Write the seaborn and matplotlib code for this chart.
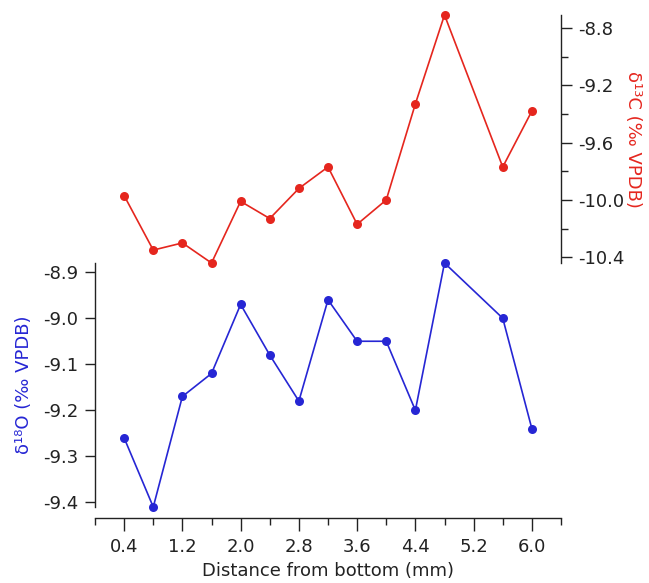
import matplotlib
matplotlib.use("Agg")
import matplotlib.pyplot as plt
import matplotlib.ticker as mticker
import seaborn as sns
import pandas as pd
import numpy as np

# distance from bottom (mm)
dist = [0.4, 0.8, 1.2, 1.6, 2.0, 2.4, 2.8, 3.2, 3.6, 4.0, 4.4, 4.8, 5.6, 6.0]
# d18O (permil VPDB)
d18o = [-9.26, -9.41, -9.17, -9.12, -8.97, -9.08, -9.18, -8.96, -9.05, -9.05, -9.20, -8.88, -9.00, -9.24]
# d13C (permil VPDB)
d13c = [-9.97, -10.35, -10.30, -10.44, -10.01, -10.13, -9.92, -9.77, -10.17, -10.00, -9.33, -8.71, -9.77, -9.38]

x_major = [0.4, 1.2, 2.0, 2.8, 3.6, 4.4, 5.2, 6.0]
x_minor = [0.0, 0.8, 1.6, 2.4, 3.2, 4.0, 4.8, 5.6, 6.4]
c_major = [-8.8, -9.2, -9.6, -10.0, -10.4]
c_minor = [-9.0, -9.4, -9.8, -10.2]
o_major = [-8.9, -9.0, -9.1, -9.2, -9.3, -9.4]

df = pd.DataFrame({"dist": dist, "d18o": d18o, "d13c": d13c})

sns.set_style("ticks")
plt.rcParams["font.family"] = ["DejaVu Sans"]
plt.rcParams["axes.unicode_minus"] = False
plt.rcParams["font.size"] = 13

blue = "#2626d4"
red = "#e5261e"
txt = "#222222"

fig = plt.figure(figsize=(6.49, 5.83), dpi=100)
ax1 = fig.add_axes([0.1464, 0.1304, 0.718, 0.4185])
ax2 = fig.add_axes([0.1464, 0.5489, 0.718, 0.4254])
ax2.patch.set_alpha(0)

# 氧同位素
sns.lineplot(data=df, x="dist", y="d18o", ax=ax1, color=blue, marker="o",
             markersize=6.5, markeredgewidth=0, linewidth=1.2, clip_on=False)
# 碳同位素
sns.lineplot(data=df, x="dist", y="d13c", ax=ax2, color=red, marker="o",
             markersize=6.5, markeredgewidth=0, linewidth=1.2, clip_on=False)

for ax in (ax1, ax2):
    ax.set_xlim(0, 6.4)
    ax.set_xlabel("")
    for s in ax.spines.values():
        s.set_visible(False)
        s.set_color(txt)
        s.set_linewidth(1.0)

ax1.set_ylim(min(d18o), max(d18o))
ax2.set_ylim(min(d13c), max(d13c))

# blue axis (left + bottom)
ax1.spines["left"].set_visible(True)
ax1.spines["bottom"].set_visible(True)
ax1.spines["bottom"].set_position(("outward", 8))
ax1.xaxis.set_major_locator(mticker.FixedLocator(x_major))
ax1.xaxis.set_minor_locator(mticker.FixedLocator(x_minor))
ax1.xaxis.set_major_formatter(mticker.FormatStrFormatter("%.1f"))
ax1.yaxis.set_major_locator(mticker.FixedLocator(o_major))
ax1.yaxis.set_major_formatter(mticker.FormatStrFormatter("%.1f"))
ax1.tick_params(axis="x", which="major", length=9, width=1, colors=txt, pad=5)
ax1.tick_params(axis="x", which="minor", length=5, width=1, colors=txt)
ax1.tick_params(axis="y", which="major", length=7, width=1, colors=txt, pad=5)
ax1.set_xlabel("Distance from bottom (mm)", color=txt, labelpad=5)
ax1.set_ylabel("δ¹⁸O (‰ VPDB)", color=blue, labelpad=7)

# red axis (right)
ax2.spines["right"].set_visible(True)
ax2.yaxis.tick_right()
ax2.yaxis.set_label_position("right")
ax2.xaxis.set_visible(False)
ax2.yaxis.set_major_locator(mticker.FixedLocator(c_major))
ax2.yaxis.set_minor_locator(mticker.FixedLocator(c_minor))
ax2.yaxis.set_major_formatter(mticker.FormatStrFormatter("%.1f"))
ax2.tick_params(axis="y", which="major", length=8, width=1, colors=txt, pad=4)
ax2.tick_params(axis="y", which="minor", length=5, width=1, colors=txt)
ax2.set_ylabel("δ¹³C (‰ VPDB)", color=red, rotation=270, labelpad=13)

fig.savefig("out.png", dpi=100)
